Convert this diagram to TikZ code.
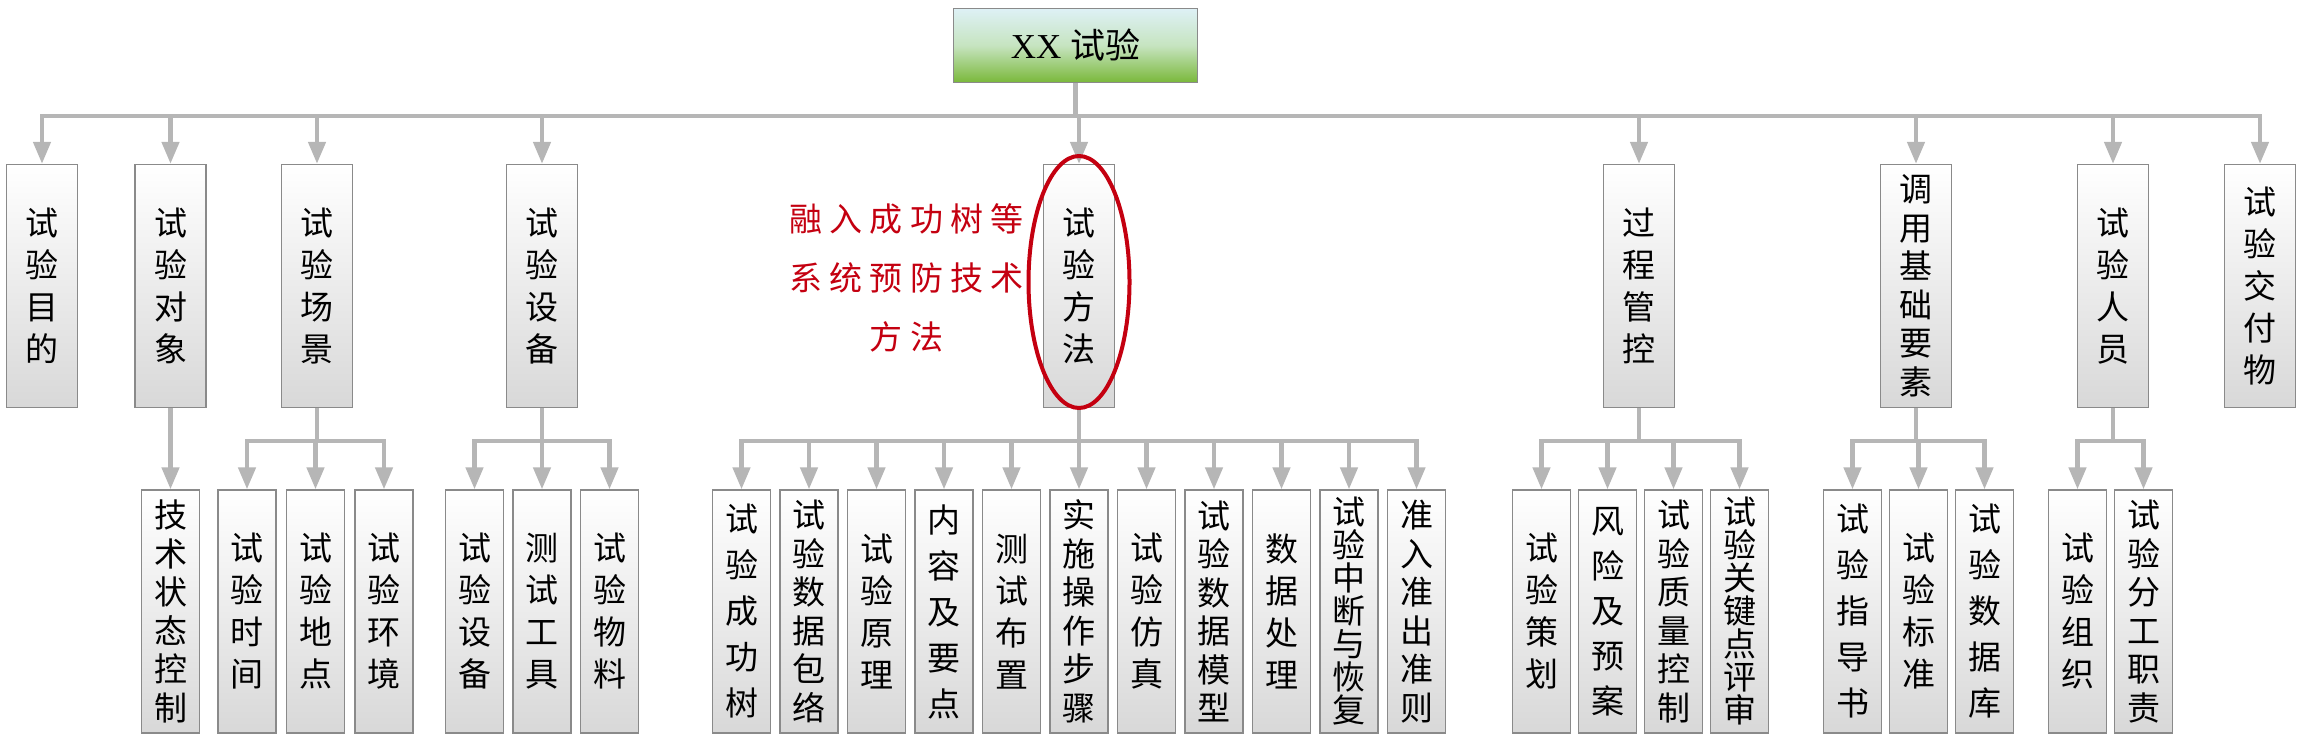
\documentclass[tikz,border=0pt]{standalone}
\usepackage{fontspec}
\setmainfont{Liberation Serif}
\newfontfamily\cjk{Noto Sans CJK SC}
\newfontfamily\cjkspaced[LetterSpace=22]{Noto Sans CJK SC}
\usetikzlibrary{arrows.meta,positioning}
\definecolor{linkgray}{RGB}{182,182,182}
\definecolor{boxline}{RGB}{138,138,138}
\definecolor{boxshade}{RGB}{216,216,216}
\definecolor{roottop}{RGB}{222,241,246}
\definecolor{rootmid}{RGB}{198,228,192}
\definecolor{rootbot}{RGB}{122,184,58}
\definecolor{markred}{RGB}{196,0,16}

\begin{document}
\begin{tikzpicture}[x=1pt, y=-1pt,
  >={Triangle[length=22pt, width=17pt]},
  link/.style={->, draw=linkgray, line width=4.5pt},
  box/.style={draw=boxline, line width=1.3pt, top color=white, bottom color=boxshade,
              inner sep=0pt, align=center, minimum height=243pt,
              font=\fontsize{33}{42}\cjk},
  cat/.style={box, minimum width=71pt},
  leaf/.style={box, minimum width=58pt},
  lsp/.style={font=\fontsize{33}{#1}\cjk},
  rootbox/.style={draw=boxline, line width=1.3pt, top color=roottop, bottom color=rootbot,
                  middle color=rootmid, minimum width=244pt, minimum height=74pt,
                  font=\fontsize{35}{40}\selectfont},
  note/.style={align=center, inner sep=0pt, text=markred, font=\fontsize{33}{59}\cjkspaced},
  ring/.style={draw=markred, line width=4pt}]
\useasboundingbox (0,0) rectangle (2302,746);

\node[rootbox] (root) at (1075.5,45.5) {XX {\cjk 试验}};

% first level
\node[cat] (purpose) at (42,286) {试\\验\\目\\的};
\node[cat] (object) at (170.5,286) {试\\验\\对\\象};
\node[cat] (scene) at (317,286) {试\\验\\场\\景};
\node[cat] (equip) at (542,286) {试\\验\\设\\备};
\node[cat] (method) at (1079,286) {试\\验\\方\\法};
\node[cat] (control) at (1639,286) {过\\程\\管\\控};
\node[cat, lsp=38.5] (basis) at (1916,286) {调\\用\\基\\础\\要\\素};
\node[cat] (staff) at (2113,286) {试\\验\\人\\员};
\node[cat] (deliver) at (2260,286) {试\\验\\交\\付\\物};

% second level
\node[leaf, lsp=38.5] (techstate) at (170.5,611.5) {技\\术\\状\\态\\控\\制};
\node[leaf] (time) at (247,611.5) {试\\验\\时\\间};
\node[leaf, right=9.2pt of time] (site) {试\\验\\地\\点};
\node[leaf, right=9.2pt of site] (env) {试\\验\\环\\境};
\node[leaf] (device) at (474.5,611.5) {试\\验\\设\\备};
\node[leaf, right=8.2pt of device] (tool) {测\\试\\工\\具};
\node[leaf, right=8.2pt of tool] (material) {试\\验\\物\\料};
\node[leaf, lsp=46] (successtree) at (741.5,611.5) {试\\验\\成\\功\\树};
\node[leaf, lsp=38.5, right=8.2pt of successtree] (envelope) {试\\验\\数\\据\\包\\络};
\node[leaf, right=8.2pt of envelope] (principle) {试\\验\\原\\理};
\node[leaf, lsp=46, right=8.2pt of principle] (keypoint) {内\\容\\及\\要\\点};
\node[leaf, right=8.2pt of keypoint] (layout) {测\\试\\布\\置};
\node[leaf, lsp=38.5, right=8.2pt of layout] (steps) {实\\施\\操\\作\\步\\骤};
\node[leaf, right=8.2pt of steps] (simulation) {试\\验\\仿\\真};
\node[leaf, lsp=38.5, right=8.2pt of simulation] (datamodel) {试\\验\\数\\据\\模\\型};
\node[leaf, right=8.2pt of datamodel] (processing) {数\\据\\处\\理};
\node[leaf, lsp=33, right=8.2pt of processing] (interrupt) {试\\验\\中\\断\\与\\恢\\复};
\node[leaf, lsp=38.5, right=8.2pt of interrupt] (criteria) {准\\入\\准\\出\\准\\则};
\node[leaf] (planning) at (1541.5,611.5) {试\\验\\策\\划};
\node[leaf, lsp=45, right=6.7pt of planning] (risk) {风\\险\\及\\预\\案};
\node[leaf, lsp=38.5, right=6.7pt of risk] (quality) {试\\验\\质\\量\\控\\制};
\node[leaf, lsp=33, right=6.7pt of quality] (review) {试\\验\\关\\键\\点\\评\\审};
\node[leaf, lsp=46] (guide) at (1852.5,611.5) {试\\验\\指\\导\\书};
\node[leaf, right=6.7pt of guide] (standard) {试\\验\\标\\准};
\node[leaf, lsp=46, right=6.7pt of standard] (database) {试\\验\\数\\据\\库};
\node[leaf] (organize) at (2077.5,611.5) {试\\验\\组\\织};
\node[leaf, lsp=38.5, right=6.7pt of organize] (duty) {试\\验\\分\\工\\职\\责};

% root to first level
\draw[link] (root.south) -- ++(0,33) -| (purpose.north);
\draw[link] (root.south) -- ++(0,33) -| (object.north);
\draw[link] (root.south) -- ++(0,33) -| (scene.north);
\draw[link] (root.south) -- ++(0,33) -| (equip.north);
\draw[link] (root.south) -- ++(0,33) -| (method.north);
\draw[link] (root.south) -- ++(0,33) -| (control.north);
\draw[link] (root.south) -- ++(0,33) -| (basis.north);
\draw[link] (root.south) -- ++(0,33) -| (staff.north);
\draw[link] (root.south) -- ++(0,33) -| (deliver.north);

% first to second level
\draw[link] (object.south) -- (techstate.north);
\draw[link] (scene.south) -- ++(0,33) -| (time.north);
\draw[link] (scene.south) -- ++(0,33) -| (site.north);
\draw[link] (scene.south) -- ++(0,33) -| (env.north);
\draw[link] (equip.south) -- ++(0,33) -| (device.north);
\draw[link] (equip.south) -- ++(0,33) -| (tool.north);
\draw[link] (equip.south) -- ++(0,33) -| (material.north);
\draw[link] (method.south) -- ++(0,33) -| (successtree.north);
\draw[link] (method.south) -- ++(0,33) -| (envelope.north);
\draw[link] (method.south) -- ++(0,33) -| (principle.north);
\draw[link] (method.south) -- ++(0,33) -| (keypoint.north);
\draw[link] (method.south) -- ++(0,33) -| (layout.north);
\draw[link] (method.south) -- ++(0,33) -| (steps.north);
\draw[link] (method.south) -- ++(0,33) -| (simulation.north);
\draw[link] (method.south) -- ++(0,33) -| (datamodel.north);
\draw[link] (method.south) -- ++(0,33) -| (processing.north);
\draw[link] (method.south) -- ++(0,33) -| (interrupt.north);
\draw[link] (method.south) -- ++(0,33) -| (criteria.north);
\draw[link] (control.south) -- ++(0,33) -| (planning.north);
\draw[link] (control.south) -- ++(0,33) -| (risk.north);
\draw[link] (control.south) -- ++(0,33) -| (quality.north);
\draw[link] (control.south) -- ++(0,33) -| (review.north);
\draw[link] (basis.south) -- ++(0,33) -| (guide.north);
\draw[link] (basis.south) -- ++(0,33) -| (standard.north);
\draw[link] (basis.south) -- ++(0,33) -| (database.north);
\draw[link] (staff.south) -- ++(0,33) -| (organize.north);
\draw[link] (staff.south) -- ++(0,33) -| (duty.north);

% highlight
\node[note, left=19pt of method, yshift=8pt] (remark) {融入成功树等\\系统预防技术\\方法};
\draw[ring] ([yshift=4pt]method.center) ellipse [x radius=50.5pt, y radius=126pt];
\end{tikzpicture}
\end{document}
